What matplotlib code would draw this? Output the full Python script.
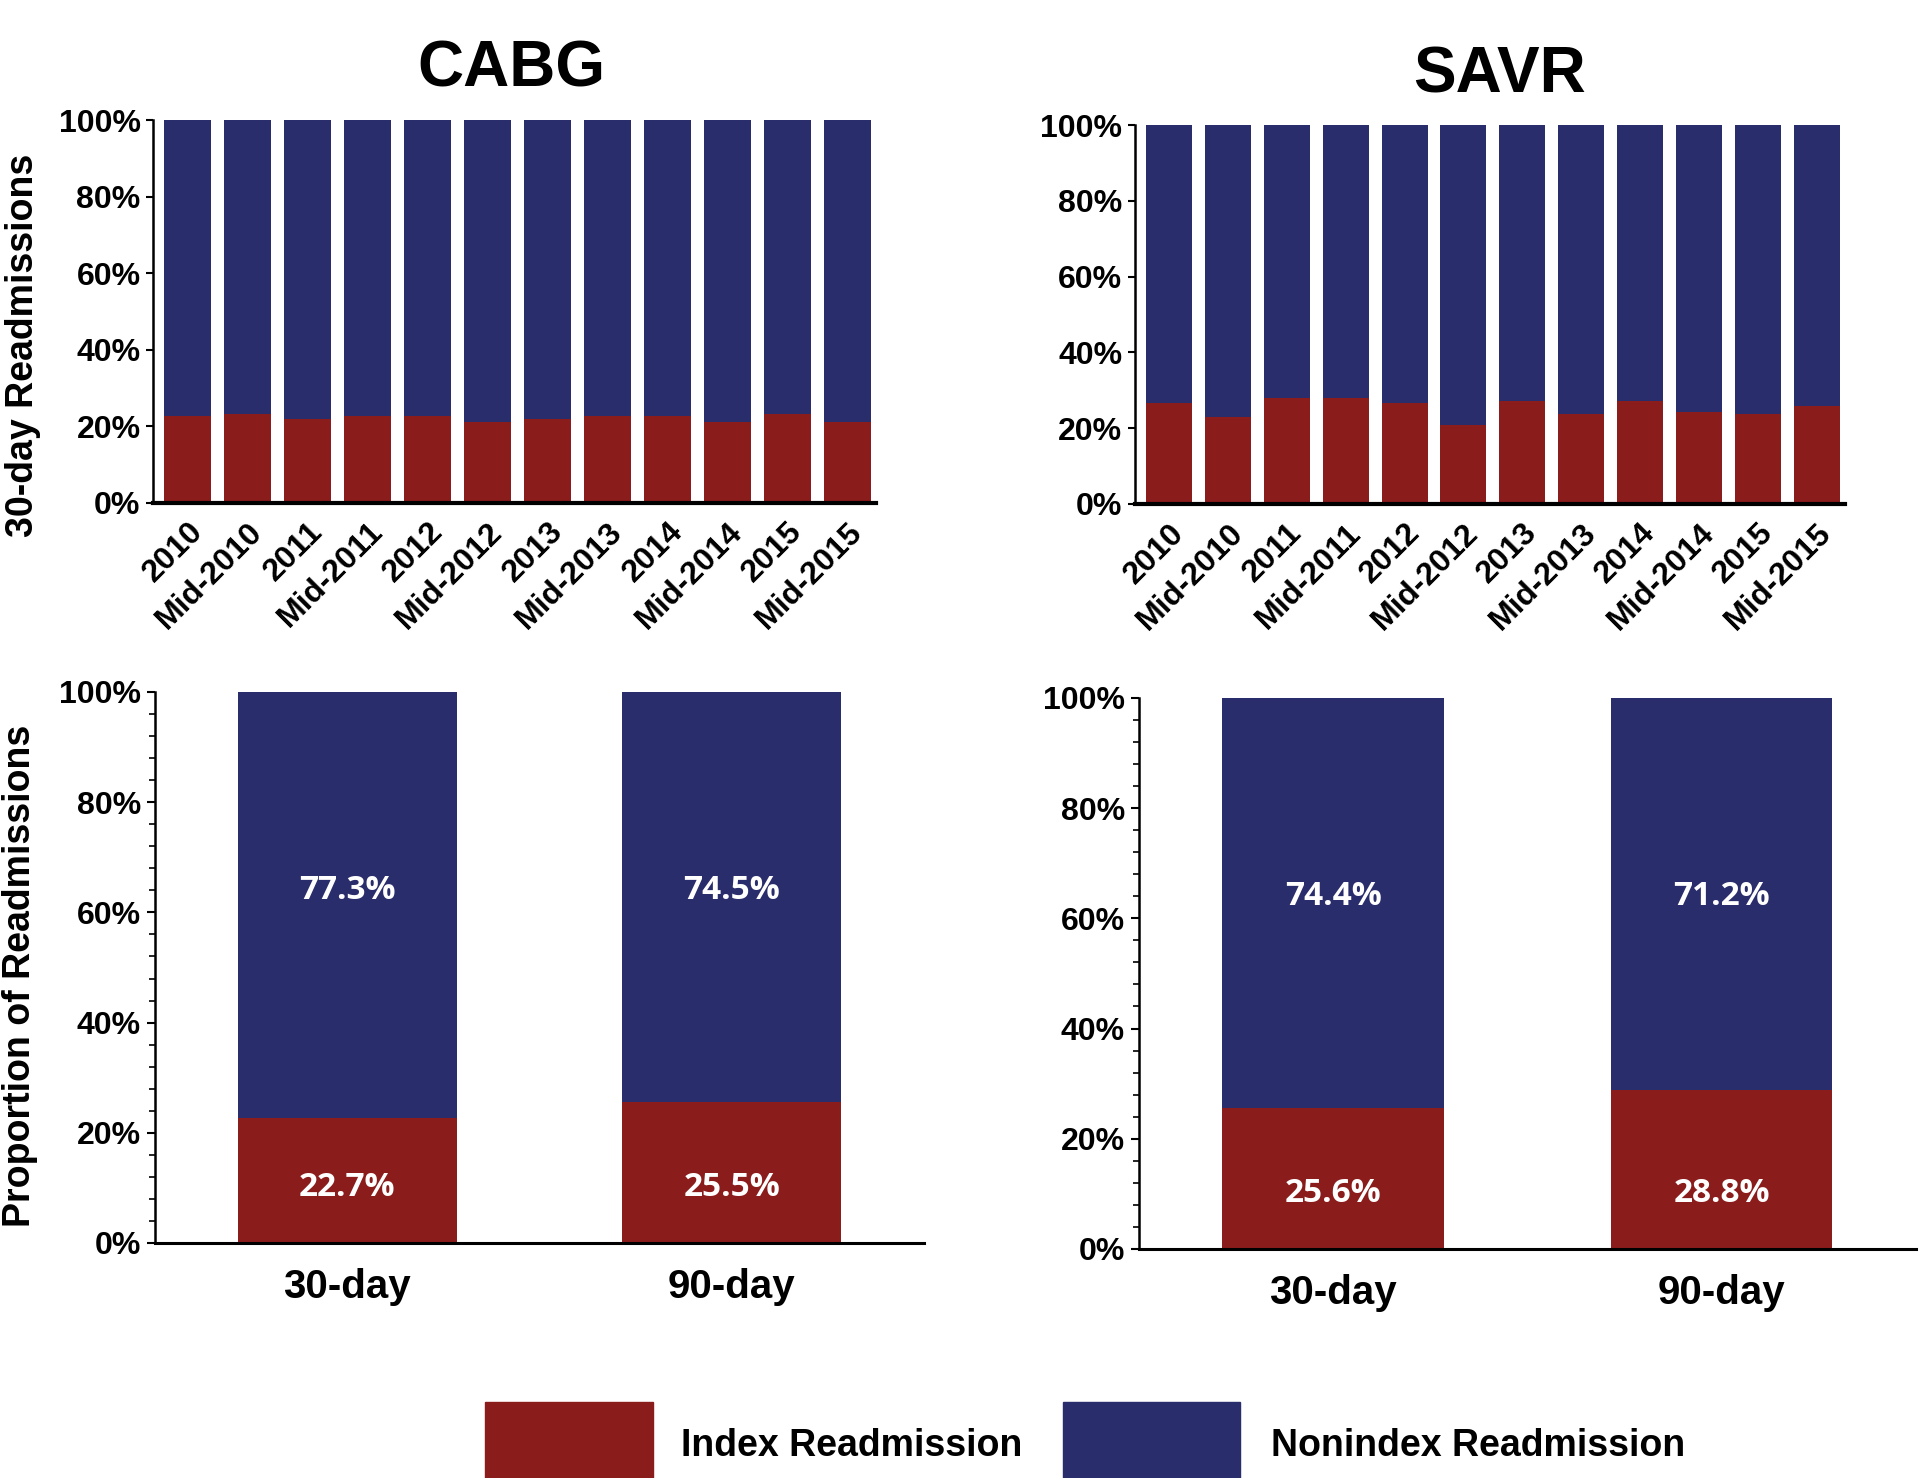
import matplotlib
matplotlib.use("Agg")
import matplotlib.pyplot as plt
from matplotlib.patches import Rectangle
from matplotlib.ticker import MultipleLocator, PercentFormatter

# ===============================================
# Data
# ===============================================

periods = ["2010", "Mid-2010", "2011", "Mid-2011", "2012", "Mid-2012",
           "2013", "Mid-2013", "2014", "Mid-2014", "2015", "Mid-2015"]

cabg_index_trend = [22.6, 23.3, 22.0, 22.6, 22.6, 21.2, 22.0, 22.6, 22.6, 21.2, 23.3, 21.2]
savr_index_trend = [26.6, 23.0, 28.0, 28.0, 26.6, 20.8, 27.2, 23.7, 27.2, 24.4, 23.7, 25.9]

windows = ["30-day", "90-day"]
cabg_index = [22.7, 25.5]
cabg_nonindex = [77.3, 74.5]
savr_index = [25.6, 28.8]
savr_nonindex = [74.4, 71.2]

RED = "#8B1C1C"
BLUE = "#2A2D6B"

NARROW = ["Liberation Sans Narrow", "Liberation Sans", "DejaVu Sans"]
WIDE = ["Liberation Sans", "DejaVu Sans"]
VALUE = ["Open Sans", "DejaVu Sans"]

fig = plt.figure(figsize=(19.2, 14.78), dpi=100)


def trend_panel(rect, index_vals):
    ax = fig.add_axes(rect)
    x = range(len(periods))
    nonindex = [100 - v for v in index_vals]
    ax.bar(x, index_vals, width=0.78, color=RED)
    ax.bar(x, nonindex, bottom=index_vals, width=0.78, color=BLUE)
    ax.set_xlim(-0.58, 11.48)
    ax.set_ylim(0, 100)
    ax.yaxis.set_major_locator(MultipleLocator(20))
    ax.yaxis.set_major_formatter(PercentFormatter(decimals=0))
    ax.set_xticks(list(x))
    ax.set_xticklabels(periods, rotation=45, ha="right", rotation_mode="anchor",
                       family=NARROW, fontweight="bold", fontsize=23)
    for lab in ax.get_yticklabels():
        lab.set_family(NARROW)
        lab.set_fontweight("bold")
        lab.set_fontsize(23)
    ax.tick_params(axis="x", length=0, pad=10)
    ax.tick_params(axis="y", length=5, width=1.5, pad=4)
    for s in ["top", "right"]:
        ax.spines[s].set_visible(False)
    ax.spines["left"].set_linewidth(1.8)
    ax.spines["bottom"].set_linewidth(3)
    return ax


def window_panel(rect, index_vals, nonindex_vals):
    ax = fig.add_axes(rect)
    x = range(len(windows))
    ax.bar(x, index_vals, width=0.57, color=RED)
    ax.bar(x, nonindex_vals, bottom=index_vals, width=0.57, color=BLUE)
    for i in x:
        ax.text(i, 10, f"{index_vals[i]:.1f}%", ha="center", va="center",
                color="white", fontsize=24, fontweight="bold", family=VALUE)
        ax.text(i, 64, f"{nonindex_vals[i]:.1f}%", ha="center", va="center",
                color="white", fontsize=24, fontweight="bold", family=VALUE)
    ax.set_xlim(-0.5, 1.5)
    ax.set_ylim(0, 100)
    ax.yaxis.set_major_locator(MultipleLocator(20))
    ax.yaxis.set_minor_locator(MultipleLocator(4))
    ax.yaxis.set_major_formatter(PercentFormatter(decimals=0))
    ax.set_xticks(list(x))
    ax.set_xticklabels(windows, family=NARROW, fontweight="bold", fontsize=29)
    for lab in ax.get_yticklabels():
        lab.set_family(NARROW)
        lab.set_fontweight("bold")
        lab.set_fontsize(23)
    ax.tick_params(axis="x", length=0, pad=18)
    ax.tick_params(axis="y", which="major", length=6, width=1.5, pad=4)
    ax.tick_params(axis="y", which="minor", length=4, width=1.2)
    for s in ["top", "right"]:
        ax.spines[s].set_visible(False)
    ax.spines["left"].set_linewidth(1.8)
    ax.spines["bottom"].set_linewidth(2.2)
    return ax


# ===============================================
# Panels
# ===============================================

trend_panel([0.0797, 0.6597, 0.3766, 0.2591], cabg_index_trend)
trend_panel([0.5911, 0.659, 0.3698, 0.2564], savr_index_trend)
window_panel([0.0807, 0.159, 0.4005, 0.3728], cabg_index, cabg_nonindex)
window_panel([0.5932, 0.155, 0.4047, 0.3728], savr_index, savr_nonindex)

fig.text(0.2666, 0.953, "CABG", ha="center", va="center", fontsize=46,
         fontweight="bold", family=WIDE)
fig.text(0.781, 0.949, "SAVR", ha="center", va="center", fontsize=46,
         fontweight="bold", family=WIDE)

fig.text(0.012, 0.766, "30-day Readmissions", rotation=90, ha="center",
         va="center", fontsize=27, fontweight="bold", family=WIDE)
fig.text(0.0105, 0.340, "Proportion of Readmissions", rotation=90, ha="center",
         va="center", fontsize=27, fontweight="bold", family=WIDE)

# ===============================================
# Legend
# ===============================================

W, H = 1920, 1478
fig.patches.append(Rectangle((485 / W, 0), 168 / W, 76 / H, color=RED,
                             transform=fig.transFigure, figure=fig))
fig.patches.append(Rectangle((1063 / W, 0), 177 / W, 76 / H, color=BLUE,
                             transform=fig.transFigure, figure=fig))
fig.text(681 / W, 1 - 1446 / H, "Index Readmission", ha="left", va="center",
         fontsize=27, fontweight="bold", family=NARROW)
fig.text(1271 / W, 1 - 1446 / H, "Nonindex Readmission", ha="left", va="center",
         fontsize=27, fontweight="bold", family=NARROW)

fig.savefig("out.png", dpi=100, facecolor="white")
